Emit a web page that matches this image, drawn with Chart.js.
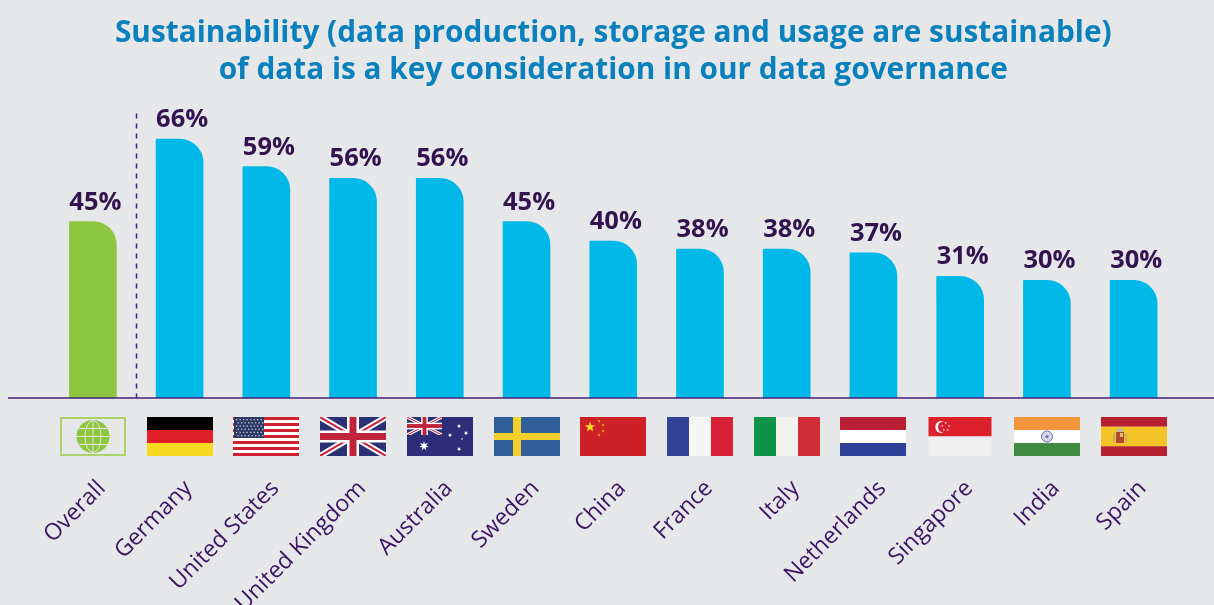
<!DOCTYPE html>
<html>
<head>
<meta charset="utf-8">
<style>
    html, body { margin: 0; padding: 0; background: #e6e7e9; overflow: hidden; }
    #wrap { position: relative; width: 1214px; height: 605px; }
</style>
<script src="https://cdn.jsdelivr.net/npm/chart.js@4"></script>
</head>
<body>
<div id="wrap"><canvas id="chart" width="1214" height="605"></canvas></div>
<script>
const titleLines = [
    'Sustainability (data production, storage and usage are sustainable)',
    'of data is a key consideration in our data governance'
];
const countries = ['Overall', 'Germany', 'United States', 'United Kingdom', 'Australia', 'Sweden', 'China',
    'France', 'Italy', 'Netherlands', 'Singapore', 'India', 'Spain'];
const shares = [45, 66, 59, 56, 56, 45, 40, 38, 38, 37, 31, 30, 30];
const barColors = ['#8dc63f', '#00b9e8', '#00b9e8', '#00b9e8', '#00b9e8', '#00b9e8', '#00b9e8',
    '#00b9e8', '#00b9e8', '#00b9e8', '#00b9e8', '#00b9e8', '#00b9e8'];

const FONT = '"Open Sans", sans-serif';
const PURPLE = '#3b1464';
const FLAG_W = 66;
const FLAG_H = 39;

function hBands(ctx, colors, weights) {
    const total = weights.reduce((a, b) => a + b, 0);
    let y = 0;
    colors.forEach((c, i) => {
        const h = FLAG_H * weights[i] / total;
        ctx.fillStyle = c;
        ctx.fillRect(0, y, FLAG_W, h);
        y += h;
    });
}

function vBands(ctx, colors) {
    colors.forEach((c, i) => {
        ctx.fillStyle = c;
        ctx.fillRect(i * FLAG_W / 3, 0, FLAG_W / 3, FLAG_H);
    });
}

function star(ctx, cx, cy, r, color, points = 5) {
    ctx.fillStyle = color;
    ctx.beginPath();
    for (let i = 0; i < points * 2; i++) {
        const rad = i % 2 ? r * 0.42 : r;
        const a = -Math.PI / 2 + i * Math.PI / points;
        ctx.lineTo(cx + rad * Math.cos(a), cy + rad * Math.sin(a));
    }
    ctx.closePath();
    ctx.fill();
}

function unionJack(ctx, w, h, scale) {
    ctx.save();
    ctx.beginPath();
    ctx.rect(0, 0, w, h);
    ctx.clip();
    ctx.fillStyle = '#2b3175';
    ctx.fillRect(0, 0, w, h);
    ctx.lineCap = 'butt';
    ctx.strokeStyle = '#ffffff';
    ctx.lineWidth = 6 * scale;
    ctx.beginPath();
    ctx.moveTo(0, 0); ctx.lineTo(w, h);
    ctx.moveTo(w, 0); ctx.lineTo(0, h);
    ctx.stroke();
    ctx.strokeStyle = '#c8223c';
    ctx.lineWidth = 2 * scale;
    ctx.beginPath();
    ctx.moveTo(0, 0); ctx.lineTo(w, h);
    ctx.moveTo(w, 0); ctx.lineTo(0, h);
    ctx.stroke();
    ctx.fillStyle = '#ffffff';
    ctx.fillRect(w / 2 - 6 * scale, 0, 12 * scale, h);
    ctx.fillRect(0, h / 2 - 6 * scale, w, 12 * scale);
    ctx.fillStyle = '#c0233c';
    ctx.fillRect(w / 2 - 3.5 * scale, 0, 7 * scale, h);
    ctx.fillRect(0, h / 2 - 3.5 * scale, w, 7 * scale);
    ctx.restore();
}

const flagDrawers = {
    'Overall'(ctx) {
        const green = '#8dc63f';
        ctx.strokeStyle = '#a9d46c';
        ctx.lineWidth = 2;
        ctx.strokeRect(1, 1, FLAG_W - 2, FLAG_H - 2);
        const cx = FLAG_W / 2;
        const cy = FLAG_H / 2;
        ctx.fillStyle = green;
        ctx.beginPath();
        ctx.arc(cx, cy, 16.5, 0, Math.PI * 2);
        ctx.fill();
        ctx.strokeStyle = '#e6e7e9';
        ctx.lineWidth = 1;
        ctx.beginPath();
        ctx.moveTo(cx, cy - 16); ctx.lineTo(cx, cy + 16);
        ctx.moveTo(cx - 16, cy); ctx.lineTo(cx + 16, cy);
        ctx.moveTo(cx - 14, cy - 8); ctx.lineTo(cx + 14, cy - 8);
        ctx.moveTo(cx - 14, cy + 8); ctx.lineTo(cx + 14, cy + 8);
        ctx.stroke();
        ctx.beginPath();
        ctx.ellipse(cx, cy, 8, 16, 0, 0, Math.PI * 2);
        ctx.stroke();
    },
    'Germany'(ctx) {
        hBands(ctx, ['#000000', '#e02026', '#f7d922'], [1, 1, 1]);
    },
    'United States'(ctx) {
        for (let i = 0; i < 13; i++) {
            ctx.fillStyle = i % 2 ? '#ffffff' : '#cf2030';
            ctx.fillRect(0, i * 3, FLAG_W, 3);
        }
        ctx.fillStyle = '#2e3a66';
        ctx.fillRect(1, 0, 30, 21);
        ctx.fillStyle = '#c5cad8';
        for (let r = 0; r < 6; r++) {
            for (let c = 0; c < 8; c++) {
                ctx.fillRect(3 + c * 3.5 + (r % 2) * 1.5, 2 + r * 3.2, 1.3, 1.3);
            }
        }
    },
    'United Kingdom'(ctx) {
        unionJack(ctx, FLAG_W, FLAG_H, 1);
    },
    'Australia'(ctx) {
        ctx.fillStyle = '#2e2d7a';
        ctx.fillRect(0, 0, FLAG_W, FLAG_H);
        unionJack(ctx, 35, 18, 0.55);
        star(ctx, 17, 29, 5, '#ffffff', 7);
        [[52, 9], [43, 18], [59, 16], [52, 32]].forEach(([x, y]) => star(ctx, x, y, 2.3, '#ffffff', 7));
        star(ctx, 55, 22, 1.2, '#ffffff');
    },
    'Sweden'(ctx) {
        ctx.fillStyle = '#2f5f9a';
        ctx.fillRect(0, 0, FLAG_W, FLAG_H);
        ctx.fillStyle = '#f4d02c';
        ctx.fillRect(19, 0, 8, FLAG_H);
        ctx.fillRect(0, 16, FLAG_W, 7);
    },
    'China'(ctx) {
        ctx.fillStyle = '#cd2027';
        ctx.fillRect(0, 0, FLAG_W, FLAG_H);
        star(ctx, 10, 10, 5.5, '#f7d922');
        [[19, 4], [23, 8], [23, 14], [19, 18]].forEach(([x, y]) => star(ctx, x, y, 1.8, '#f7b322'));
    },
    'France'(ctx) {
        vBands(ctx, ['#324296', '#f5f5f5', '#da2037']);
    },
    'Italy'(ctx) {
        vBands(ctx, ['#0e9347', '#f2f2f0', '#cf2c36']);
    },
    'Netherlands'(ctx) {
        hBands(ctx, ['#ba2035', '#ffffff', '#2f4197'], [1, 1, 1]);
    },
    'Singapore'(ctx) {
        // this flag is a little narrower than the others in the original
        ctx.translate(1.5, 0);
        ctx.scale(63 / FLAG_W, 1);
        hBands(ctx, ['#dc202c', '#efefef'], [1, 1]);
        ctx.fillStyle = '#f2f2f2';
        ctx.beginPath();
        ctx.arc(13, 10, 6, 0, Math.PI * 2);
        ctx.fill();
        ctx.fillStyle = '#dc202c';
        ctx.beginPath();
        ctx.arc(15.5, 10, 5.5, 0, Math.PI * 2);
        ctx.fill();
        [[18, 6], [21.5, 9], [20, 13], [16, 13], [14.5, 9]].forEach(([x, y]) => star(ctx, x, y, 1.3, '#f2f2f2'));
    },
    'India'(ctx) {
        hBands(ctx, ['#f2953c', '#ffffff', '#3f8b41'], [1, 1, 1]);
        ctx.strokeStyle = '#6a6fa8';
        ctx.fillStyle = '#d5d7e8';
        ctx.lineWidth = 1;
        ctx.beginPath();
        ctx.arc(33, 19.5, 5.5, 0, Math.PI * 2);
        ctx.fill();
        ctx.stroke();
        ctx.fillStyle = '#6a6fa8';
        ctx.beginPath();
        ctx.arc(33, 19.5, 1.5, 0, Math.PI * 2);
        ctx.fill();
    },
    'Spain'(ctx) {
        hBands(ctx, ['#b72030', '#f4c427', '#b72030'], [1, 2, 1]);
        ctx.fillStyle = '#c4ad72';
        ctx.fillRect(12, 16, 2, 9);
        ctx.fillRect(24, 16, 2, 9);
        ctx.fillStyle = '#b2462a';
        ctx.fillRect(15, 15, 8, 11);
        ctx.fillStyle = '#d9c25a';
        ctx.fillRect(19, 16, 3, 4);
        ctx.fillStyle = '#bdb9a8';
        ctx.fillRect(16, 12, 6, 3);
    }
};

// flags sit in a row under the baseline, one per category
const flagRow = {
    id: 'flagRow',
    afterDraw(chart) {
        const { ctx, scales: { x } } = chart;
        countries.forEach((name, i) => {
            ctx.save();
            ctx.translate(Math.round(x.getPixelForValue(i) - FLAG_W / 2), x.top + 19);
            flagDrawers[name](ctx);
            ctx.restore();
        });
    }
};

// percent labels start at the left edge of each bar
const valueLabels = {
    id: 'valueLabels',
    afterDatasetsDraw(chart) {
        const { ctx } = chart;
        ctx.save();
        ctx.font = `700 25.5px ${FONT}`;
        ctx.fillStyle = '#33134f';
        ctx.textAlign = 'left';
        ctx.textBaseline = 'alphabetic';
        chart.getDatasetMeta(0).data.forEach((bar, i) => {
            ctx.fillText(`${shares[i]}%`, bar.x - bar.width / 2, bar.y - 12);
        });
        ctx.restore();
    }
};

const axisLines = {
    id: 'axisLines',
    afterDatasetsDraw(chart) {
        const { ctx, width, scales: { x, y } } = chart;
        const base = y.getPixelForValue(0);
        ctx.save();
        ctx.strokeStyle = '#45207a';
        ctx.lineWidth = 1.5;
        ctx.beginPath();
        ctx.moveTo(8, base);
        ctx.lineTo(width, base);
        ctx.stroke();
        // divider between the overall bar and the countries
        const dx = Math.round((x.getPixelForValue(0) + x.getPixelForValue(1)) / 2) + 0.5;
        ctx.lineWidth = 1.5;
        ctx.setLineDash([5, 5]);
        ctx.beginPath();
        ctx.moveTo(dx, y.top - 10);
        ctx.lineTo(dx, base);
        ctx.stroke();
        ctx.restore();
    }
};

new Chart(document.getElementById('chart').getContext('2d'), {
    type: 'bar',
    data: {
        labels: countries,
        datasets: [{
            data: shares,
            backgroundColor: barColors,
            borderSkipped: false,
            borderRadius: { topLeft: 1, topRight: 27, bottomLeft: 0, bottomRight: 0 },
            barThickness: 47
        }]
    },
    options: {
        responsive: false,
        animation: false,
        layout: { padding: { left: 49.5, right: 37, top: 0, bottom: 0 } },
        plugins: {
            legend: { display: false },
            tooltip: { enabled: false },
            title: {
                display: true,
                text: titleLines,
                color: '#0a80bc',
                font: { family: FONT, size: 29.8, weight: 'bold', lineHeight: 1.233 },
                padding: { top: 15, bottom: 35 }
            }
        },
        scales: {
            x: {
                border: { display: false },
                grid: { display: false, drawTicks: false },
                afterFit(scale) {
                    // labels run off the bottom and left in the original, so don't reserve room for them
                    scale.height = 207;
                    scale.paddingLeft = 0;
                    scale.paddingRight = 0;
                },
                ticks: {
                    autoSkip: false,
                    minRotation: 45,
                    maxRotation: 45,
                    padding: 77,
                    labelOffset: 9,
                    color: PURPLE,
                    font: { family: FONT, size: 23, weight: 'normal' }
                }
            },
            y: {
                display: false,
                min: 0,
                max: 70
            }
        }
    },
    plugins: [axisLines, valueLabels, flagRow]
});
</script>
</body>
</html>
